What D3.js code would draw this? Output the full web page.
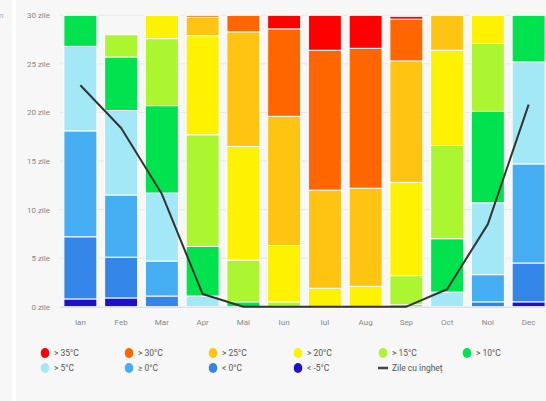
<!DOCTYPE html>
<html>
<head>
<meta charset="utf-8">
<script src="https://cdn.jsdelivr.net/npm/d3@7"></script>
<style>
  html, body { margin: 0; padding: 0; background: #f7f7f7; }
  svg { display: block; font-family: Roboto, "DejaVu Sans", sans-serif; }
</style>
</head>
<body>
<svg id="chart" width="546" height="401"></svg>
<script>
const months = ["Ian","Feb","Mar","Apr","Mai","Iun","Iul","Aug","Sep","Oct","Noi","Dec"];
const yTicks = [0, 5, 10, 15, 20, 25, 30];

// days per temperature class (stack order bottom -> top)
const belowMinus5 = [0.8, 0.9, 0, 0, 0, 0, 0, 0, 0, 0, 0, 0.5];
const below0      = [6.4, 4.2, 1.1, 0, 0, 0, 0, 0, 0, 0, 0.5, 4.0];
const above0      = [10.9, 6.4, 3.6, 0, 0, 0, 0, 0, 0, 0, 2.8, 10.2];
const above5      = [8.7, 8.7, 7.0, 1.1, 0, 0, 0, 0, 0, 1.5, 7.4, 10.5];
const above10     = [3.2, 5.5, 9.0, 5.1, 0.5, 0, 0, 0, 0.2, 5.5, 9.4, 4.8];
const above15     = [0, 2.3, 6.9, 11.5, 4.3, 0.5, 0, 0, 3.0, 9.6, 7.0, 0];
const above20     = [0, 0, 2.4, 10.2, 11.7, 5.8, 1.9, 2.1, 9.6, 9.8, 2.9, 0];
const above25     = [0, 0, 0, 1.9, 11.8, 13.3, 10.1, 10.1, 12.5, 3.6, 0, 0];
const above30     = [0, 0, 0, 0.2, 1.7, 9.0, 14.4, 14.4, 4.3, 0, 0, 0];
const above35     = [0, 0, 0, 0, 0, 1.4, 3.6, 3.4, 0.3, 0, 0, 0];
const frostDays   = [22.8, 18.4, 11.6, 1.3, 0, 0, 0, 0, 0, 1.8, 8.5, 20.8];

const seriesNames = ["< -5°C","< 0°C","≥ 0°C","> 5°C","> 10°C","> 15°C","> 20°C","> 25°C","> 30°C","> 35°C"];
const seriesValues = [belowMinus5, below0, above0, above5, above10, above15, above20, above25, above30, above35];
const seriesColors = ["#1c10cc","#3386e8","#45aef3","#a3e8f6","#00e34f","#acf631","#fff200","#ffc312","#ff6600","#ff0000"];
const frostName = "Zile cu îngheț";

const svg = d3.select("#chart");

// background details
svg.append("rect").attr("x", 0).attr("y", 0).attr("width", 546).attr("height", 401).attr("fill", "#f7f7f7");
svg.append("rect").attr("x", 12).attr("y", 0).attr("width", 4).attr("height", 401).attr("fill", "#ffffff");
svg.append("text").attr("x", -1).attr("y", 18).attr("font-size", 8).attr("fill", "#aaa").text("n");

const x = d3.scaleBand().domain(months).range([60, 549]).paddingInner(0.19).paddingOuter(0.095);
const y = d3.scaleLinear().domain([0, 30]).range([306.7, 15.3]);

// gridlines
svg.append("g").selectAll("line").data(yTicks.filter(t => t > 0)).join("line")
  .attr("x1", 60).attr("x2", 549)
  .attr("y1", d => y(d)).attr("y2", d => y(d))
  .attr("stroke", "#e8e8e8").attr("stroke-width", 1);

// y axis labels
svg.append("g").selectAll("text").data(yTicks).join("text")
  .attr("x", 50).attr("y", d => y(d) + 3)
  .attr("text-anchor", "end").attr("font-size", 8).attr("fill", "#888")
  .text(d => d + " zile");

// stacked data
const table = months.map((m, i) => {
  const row = { month: m };
  seriesNames.forEach((n, k) => row[n] = seriesValues[k][i]);
  return row;
});
const stack = d3.stack().keys(seriesNames)(table);

svg.append("g").selectAll("g").data(stack).join("g")
  .attr("fill", (d, k) => seriesColors[k])
  .selectAll("rect").data(d => d.filter(s => s[1] - s[0] > 0)).join("rect")
  .attr("x", d => x(d.data.month))
  .attr("width", x.bandwidth())
  .attr("y", d => y(d[1]))
  .attr("height", d => y(d[0]) - y(d[1]))
  .attr("stroke", "#ffffff").attr("stroke-width", 1);

// baseline
svg.append("line").attr("x1", 60).attr("x2", 549).attr("y1", y(0) + 0.5).attr("y2", y(0) + 0.5)
  .attr("stroke", "#ccd6eb").attr("stroke-width", 1);

// frost line
const line = d3.line().x((d, i) => x(months[i]) + x.bandwidth() / 2).y(d => y(d));
svg.append("path").datum(frostDays).attr("d", line)
  .attr("fill", "none").attr("stroke", "#333").attr("stroke-width", 2).attr("stroke-linejoin", "round");

// x axis labels
svg.append("g").selectAll("text").data(months).join("text")
  .attr("x", d => x(d) + x.bandwidth() / 2).attr("y", 325)
  .attr("text-anchor", "middle").attr("font-size", 8).attr("fill", "#888")
  .text(d => d);

// legend
const legendOrder = ["> 35°C","> 30°C","> 25°C","> 20°C","> 15°C","> 10°C","> 5°C","≥ 0°C","< 0°C","< -5°C", frostName];
const colX = [45, 129, 213, 298, 383, 467];
const rowY = [353, 368];
const lg = svg.append("g").selectAll("g").data(legendOrder).join("g")
  .attr("transform", (d, i) => `translate(${colX[i % 6]},${rowY[Math.floor(i / 6)]})`);
lg.each(function(d) {
  const g = d3.select(this);
  if (d === frostName) {
    g.append("line").attr("x1", -5).attr("x2", 5).attr("y1", 0).attr("y2", 0)
      .attr("stroke", "#444").attr("stroke-width", 2.5);
  } else {
    g.append("ellipse").attr("rx", 4.3).attr("ry", 5).attr("fill", seriesColors[seriesNames.indexOf(d)]);
  }
  g.append("text").attr("x", 9).attr("y", 3).attr("font-size", 8.5).attr("fill", "#555").text(d);
});
</script>
</body>
</html>
